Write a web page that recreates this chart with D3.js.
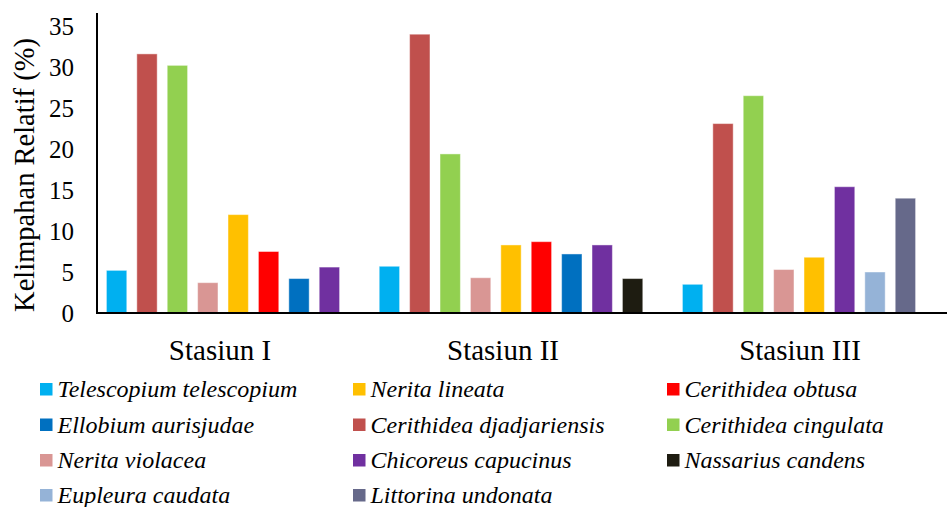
<!DOCTYPE html>
<html>
<head>
<meta charset="utf-8">
<script src="https://cdn.jsdelivr.net/npm/d3@7"></script>
<style>
  html, body { margin: 0; padding: 0; background: #fff; }
  svg { display: block; }
</style>
</head>
<body>
<svg id="chart" width="947" height="507"></svg>
<script>
// Relative abundance (%) of gastropod species at three stations
const stations = ["Stasiun I", "Stasiun II", "Stasiun III"];

const species = [
  "Telescopium telescopium", "Nerita lineata", "Cerithidea obtusa",
  "Ellobium aurisjudae", "Cerithidea djadjariensis", "Cerithidea cingulata",
  "Nerita violacea", "Chicoreus capucinus", "Nassarius candens",
  "Eupleura caudata", "Littorina undonata"
];

const speciesColors = [
  "#00B0F0", "#FFC000", "#FF0000",
  "#0070C0", "#C0504D", "#92D050",
  "#D99694", "#7030A0", "#1E1C11",
  "#95B3D7", "#66698A"
];

// Species drawn in each station, in bar order
const stasiun1Species = ["Telescopium telescopium", "Cerithidea djadjariensis", "Cerithidea cingulata",
  "Nerita violacea", "Nerita lineata", "Cerithidea obtusa", "Ellobium aurisjudae", "Chicoreus capucinus"];
const stasiun1Values = [5.2, 31.6, 30.2, 3.7, 12.0, 7.5, 4.2, 5.6];

const stasiun2Species = ["Telescopium telescopium", "Cerithidea djadjariensis", "Cerithidea cingulata",
  "Nerita violacea", "Nerita lineata", "Cerithidea obtusa", "Ellobium aurisjudae", "Chicoreus capucinus",
  "Nassarius candens"];
const stasiun2Values = [5.7, 34.0, 19.4, 4.3, 8.3, 8.7, 7.2, 8.3, 4.2];

const stasiun3Species = ["Telescopium telescopium", "Cerithidea djadjariensis", "Cerithidea cingulata",
  "Nerita violacea", "Nerita lineata", "Chicoreus capucinus", "Eupleura caudata", "Littorina undonata"];
const stasiun3Values = [3.5, 23.1, 26.5, 5.3, 6.8, 15.4, 5.0, 14.0];

const yTicks = [0, 5, 10, 15, 20, 25, 30, 35];
const yTitle = "Kelimpahan Relatif (%)";

const groups = [
  { station: stations[0], species: stasiun1Species, values: stasiun1Values },
  { station: stations[1], species: stasiun2Species, values: stasiun2Values },
  { station: stations[2], species: stasiun3Species, values: stasiun3Values }
];

const SERIF = '"Liberation Serif", "Times New Roman", serif';
const svg = d3.select("#chart");
const axisX = 97, baseY = 313, topY = 26, axisTop = 13;

const color = d3.scaleOrdinal().domain(species).range(speciesColors);

const y = d3.scaleLinear().domain([0, 35]).range([baseY, topY]);
const x0 = d3.scaleBand().domain(stations).range([79, 79 + 3 * 288]);
const step = 30.4;

// Bars
groups.forEach(g => {
  const c = x0(g.station) + x0.bandwidth() / 2;
  const n = g.species.length;
  const x1 = d3.scaleBand()
    .domain(g.species)
    .range([c - n * step / 2, c + n * step / 2])
    .paddingInner(0.33)
    .paddingOuter(0.165);
  svg.append("g")
    .selectAll("rect")
    .data(g.species.map((s, i) => ({ s, v: g.values[i] })))
    .join("rect")
    .attr("x", d => x1(d.s))
    .attr("width", x1.bandwidth())
    .attr("y", d => y(d.v))
    .attr("height", d => y(0) - y(d.v))
    .attr("fill", d => color(d.s))
    .attr("stroke", "#ffffff")
    .attr("stroke-opacity", 0.45)
    .attr("stroke-width", 1);
});

// Y axis
const yAxis = d3.axisLeft(y).tickValues(yTicks).tickSize(0).tickPadding(23);
const gy = svg.append("g").attr("transform", `translate(${axisX},0)`).call(yAxis);
gy.select(".domain").remove();
gy.selectAll("text")
  .style("font-family", SERIF)
  .style("font-size", "25px")
  .attr("fill", "#000");

svg.append("line")
  .attr("x1", axisX).attr("x2", axisX)
  .attr("y1", axisTop).attr("y2", y(0) + 1)
  .attr("stroke", "#000").attr("stroke-width", 2);

// X axis baseline
svg.append("line")
  .attr("x1", axisX - 1).attr("x2", 947)
  .attr("y1", y(0)).attr("y2", y(0))
  .attr("stroke", "#000").attr("stroke-width", 2);

// Station labels
const labelCenters = [220, 503, 800];
svg.append("g")
  .selectAll("text")
  .data(stations)
  .join("text")
  .attr("x", (d, i) => labelCenters[i])
  .attr("y", 360)
  .attr("text-anchor", "middle")
  .style("font-family", SERIF)
  .style("font-size", "29px")
  .attr("fill", "#000")
  .text(d => d);

// Y title
svg.append("text")
  .attr("transform", `translate(34,175) rotate(-90)`)
  .attr("text-anchor", "middle")
  .style("font-family", SERIF)
  .style("font-size", "28.5px")
  .attr("fill", "#000")
  .text(yTitle);

// Legend: three columns, row-major
const colX = [40, 353, 667];
const rowY = [389, 424.5, 460, 495];
const legend = svg.append("g")
  .selectAll("g")
  .data(species)
  .join("g")
  .attr("transform", (d, i) => `translate(${colX[i % 3]},${rowY[Math.floor(i / 3)]})`);
legend.append("rect")
  .attr("x", 0).attr("y", -6)
  .attr("width", 12.5).attr("height", 12.5)
  .attr("fill", d => color(d));
legend.append("text")
  .attr("x", 17.5)
  .attr("y", 8)
  .style("font-family", SERIF)
  .style("font-size", "24px")
  .style("font-style", "italic")
  .attr("fill", "#000")
  .text(d => d);
</script>
</body>
</html>
